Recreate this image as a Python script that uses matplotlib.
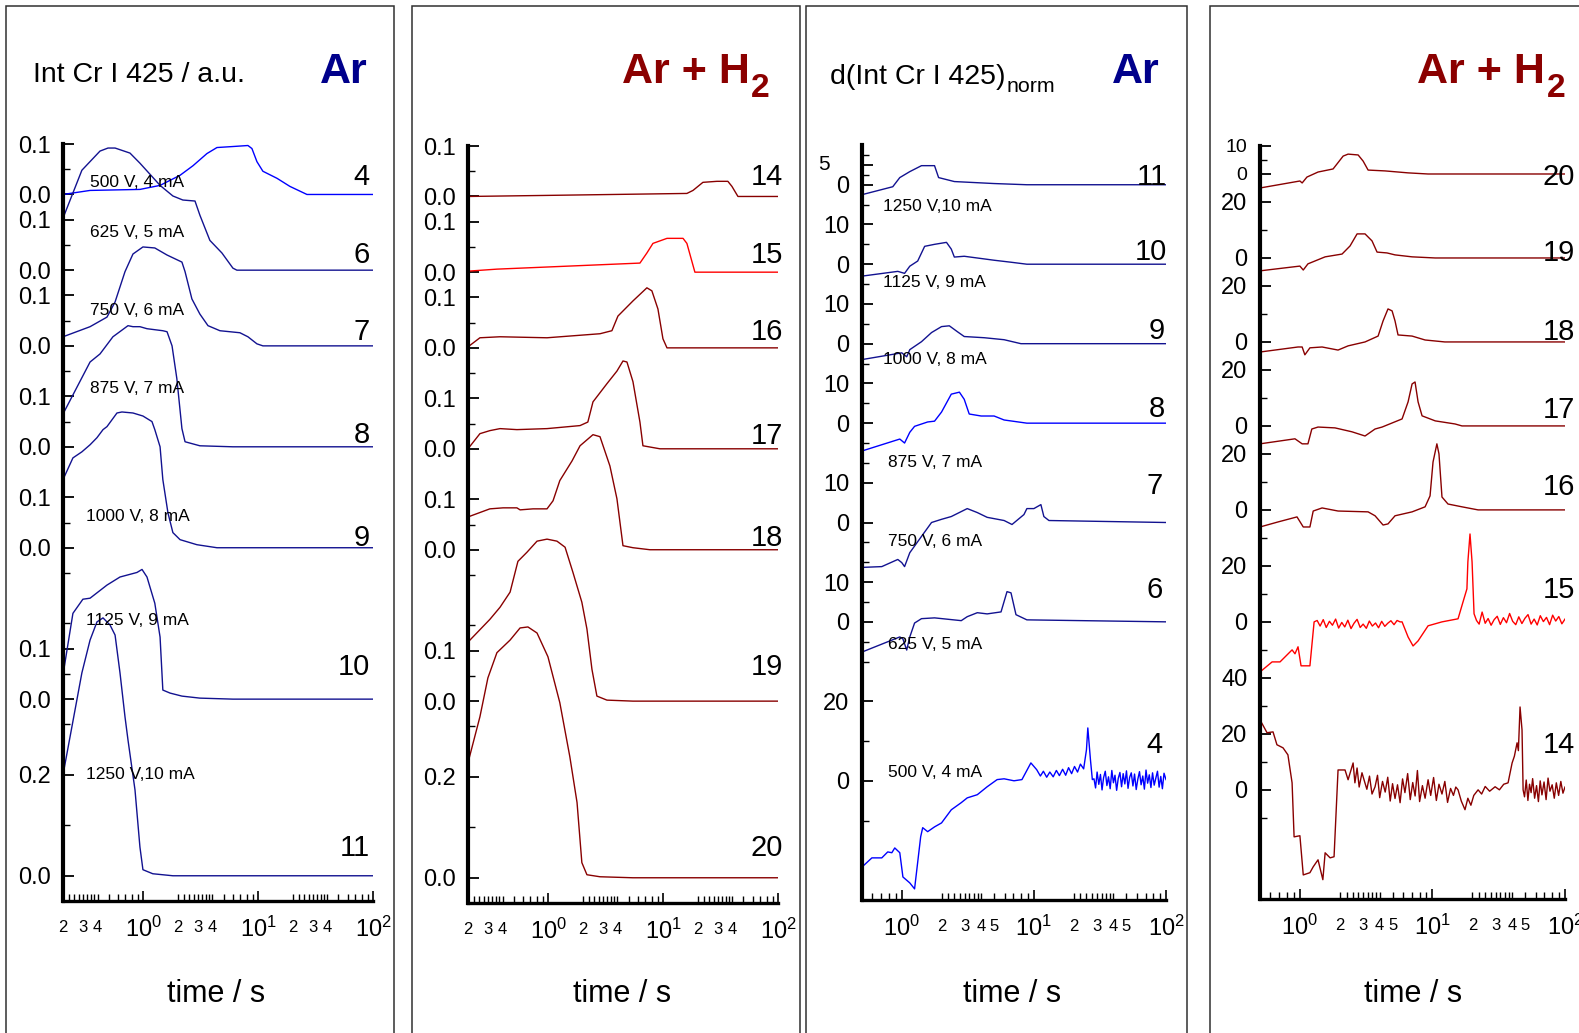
import numpy as np
import matplotlib
matplotlib.use("Agg")
import matplotlib.pyplot as plt
from matplotlib import font_manager
from matplotlib.patches import Rectangle
from matplotlib.ticker import FixedLocator, FixedFormatter, FuncFormatter

# ------------------------------------------------------------------
# Cr I 425 nm emission intensity vs. time (Ar and Ar + H2 discharges)
# ------------------------------------------------------------------

# Panel 1: Int Cr I 425 / a.u., Ar
p1_t4 = [0.2, 0.344, 0.935, 1.40, 2.09, 2.71, 3.58, 4.38, 6.03, 8.15, 8.83, 9.76, 11.0, 14.6, 18.9, 26.6, 100]
p1_v4 = [0.0, 0.008, 0.010, 0.018, 0.038, 0.057, 0.081, 0.093, 0.095, 0.097, 0.091, 0.065, 0.046, 0.032, 0.016, 0.0, 0.0]
p1_t6 = [0.2, 0.292, 0.420, 0.493, 0.568, 0.603, 0.766, 0.935, 1.40, 1.81, 2.21, 2.82, 3.11, 3.80, 4.84, 6.03, 6.53, 100]
p1_v6 = [0.103, 0.198, 0.236, 0.242, 0.242, 0.240, 0.232, 0.212, 0.168, 0.147, 0.139, 0.137, 0.109, 0.059, 0.034, 0.004, 0.0, 0.0]
p1_t7 = [0.2, 0.344, 0.483, 0.568, 0.693, 0.813, 0.993, 1.26, 1.61, 2.17, 2.31, 2.65, 3.11, 3.66, 4.65, 6.94, 8.15, 9.76, 11.0, 100]
p1_v7 = [0.018, 0.038, 0.057, 0.087, 0.147, 0.182, 0.196, 0.194, 0.180, 0.166, 0.147, 0.093, 0.063, 0.040, 0.030, 0.026, 0.018, 0.004, 0.0, 0.0]
p1_t8 = [0.2, 0.344, 0.420, 0.544, 0.736, 0.813, 0.935, 1.077, 1.48, 1.61, 1.78, 1.96, 2.17, 2.31, 3.11, 6.03, 100]
p1_v8 = [0.065, 0.168, 0.184, 0.218, 0.240, 0.238, 0.238, 0.234, 0.230, 0.228, 0.200, 0.135, 0.036, 0.010, 0.002, 0.0, 0.0]
p1_t9 = [0.2, 0.244, 0.292, 0.344, 0.395, 0.446, 0.483, 0.590, 0.652, 0.813, 0.993, 1.19, 1.26, 1.40, 1.48, 1.64, 1.81, 2.09, 2.93, 4.38, 100]
p1_v9 = [0.135, 0.178, 0.190, 0.204, 0.218, 0.234, 0.240, 0.267, 0.269, 0.267, 0.261, 0.250, 0.234, 0.200, 0.135, 0.069, 0.030, 0.016, 0.006, 0.0, 0.0]
p1_t10 = [0.2, 0.244, 0.298, 0.344, 0.483, 0.627, 0.881, 0.975, 1.077, 1.26, 1.40, 1.48, 1.71, 2.17, 3.11, 6.03, 100]
p1_v10 = [0.048, 0.170, 0.198, 0.200, 0.226, 0.242, 0.251, 0.257, 0.242, 0.190, 0.123, 0.018, 0.012, 0.006, 0.002, 0.0, 0.0]
p1_t11 = [0.2, 0.239, 0.292, 0.344, 0.395, 0.446, 0.513, 0.568, 0.627, 0.693, 0.736, 0.847, 0.935, 0.993, 1.21, 1.81, 100]
p1_v11 = [0.200, 0.295, 0.402, 0.467, 0.503, 0.511, 0.497, 0.477, 0.402, 0.315, 0.269, 0.170, 0.057, 0.012, 0.004, 0.0, 0.0]

# Panel 2: Int Cr I 425 / a.u., Ar + H2
p2_t14 = [0.2, 0.90, 16.1, 18.2, 22.2, 29.4, 36.6, 39.7, 44.8, 100]
p2_v14 = [0.0, 0.002, 0.006, 0.012, 0.028, 0.030, 0.030, 0.020, 0.0, 0.0]
p2_t15 = [0.2, 0.357, 6.28, 7.22, 8.15, 10.8, 14.9, 16.1, 18.9, 100]
p2_v15 = [0.002, 0.006, 0.018, 0.038, 0.057, 0.067, 0.067, 0.057, 0.0, 0.0]
p2_t16 = [0.2, 0.254, 0.380, 0.975, 2.82, 3.58, 4.04, 5.46, 7.22, 7.98, 9.01, 9.96, 10.8, 100]
p2_v16 = [0.002, 0.020, 0.022, 0.020, 0.028, 0.034, 0.063, 0.093, 0.119, 0.113, 0.077, 0.018, 0.0, 0.0]
p2_t17 = [0.2, 0.254, 0.310, 0.380, 0.533, 0.975, 1.89, 2.21, 2.45, 3.24, 3.96, 4.47, 4.84, 5.46, 6.28, 6.67, 9.38, 100]
p2_v17 = [0.0, 0.030, 0.036, 0.040, 0.038, 0.040, 0.046, 0.053, 0.093, 0.129, 0.154, 0.174, 0.172, 0.133, 0.053, 0.006, 0.0, 0.0]
p2_t18 = [0.2, 0.310, 0.404, 0.533, 0.568, 0.736, 0.975, 1.10, 1.26, 1.61, 1.89, 2.45, 2.82, 3.44, 3.96, 4.47, 5.46, 7.67, 100]
p2_v18 = [0.065, 0.081, 0.083, 0.083, 0.079, 0.081, 0.081, 0.097, 0.137, 0.176, 0.206, 0.228, 0.224, 0.166, 0.101, 0.008, 0.004, 0.0, 0.0]
p2_t19 = [0.2, 0.310, 0.380, 0.465, 0.544, 0.652, 0.798, 0.975, 1.19, 1.40, 1.64, 1.96, 2.17, 2.40, 2.65, 3.24, 5.46, 100]
p2_v19 = [0.117, 0.162, 0.186, 0.216, 0.277, 0.295, 0.317, 0.321, 0.317, 0.305, 0.255, 0.196, 0.143, 0.063, 0.010, 0.002, 0.0, 0.0]
p2_t20 = [0.2, 0.254, 0.298, 0.357, 0.465, 0.568, 0.665, 0.798, 0.993, 1.26, 1.54, 1.78, 1.96, 2.17, 2.82, 5.46, 100]
p2_v20 = [0.228, 0.319, 0.396, 0.446, 0.471, 0.495, 0.497, 0.485, 0.438, 0.347, 0.240, 0.149, 0.030, 0.006, 0.002, 0.0, 0.0]

# Panel 3: d(Int Cr I 425)norm, Ar
p3_t11 = [0.5, 0.855, 0.966, 1.15, 1.41, 1.77, 1.90, 2.50, 5.0, 8.85, 100]
p3_v11 = [-2.5, -0.5, 1.8, 3.3, 4.8, 4.8, 1.8, 0.8, 0.3, 0.0, 0.0]
p3_t10 = [0.5, 0.933, 1.05, 1.15, 1.32, 1.49, 1.77, 2.18, 2.37, 2.50, 2.97, 5.0, 6.71, 8.85, 100]
p3_v10 = [-3.0, -1.8, -2.3, -0.5, 0.8, 4.5, 5.0, 5.5, 3.8, 1.8, 2.0, 1.0, 0.5, 0.0, 0.0]
p3_t9 = [0.5, 1.0, 1.09, 1.15, 1.41, 1.68, 2.0, 2.29, 2.64, 2.97, 4.21, 5.95, 7.98, 100]
p3_v9 = [-4.0, -2.3, -3.3, -1.5, 0.5, 2.8, 4.3, 4.5, 3.0, 1.8, 1.5, 1.0, 0.0, 0.0]
p3_t8 = [0.5, 0.966, 1.05, 1.15, 1.25, 1.57, 1.77, 2.0, 2.37, 2.73, 2.97, 3.24, 3.99, 5.0, 5.95, 8.85, 100]
p3_v8 = [-7.0, -4.0, -5.0, -2.3, -0.8, 0.3, 0.5, 2.8, 7.3, 7.8, 6.0, 2.3, 1.8, 1.8, 0.8, 0.0, 0.0]
p3_t7 = [0.5, 0.706, 0.933, 1.0, 1.05, 1.15, 1.41, 1.68, 2.0, 2.37, 3.13, 3.73, 4.43, 5.95, 6.83, 8.41, 8.85, 10.0, 11.3, 11.9, 13.0, 100]
p3_v7 = [-11.3, -11.1, -9.3, -10.1, -11.1, -7.6, -3.5, 0.0, 0.8, 1.5, 3.5, 2.5, 1.3, 0.5, -0.5, 2.0, 3.5, 3.5, 4.5, 1.5, 0.5, 0.0]
p3_t6 = [0.5, 0.966, 1.02, 1.09, 1.15, 1.25, 1.41, 1.77, 2.82, 3.13, 3.73, 4.43, 5.64, 6.26, 6.71, 7.32, 8.85, 100]
p3_v6 = [-7.6, -3.8, -4.3, -7.1, -3.8, -0.3, 0.8, 1.0, 0.3, 1.3, 2.3, 2.0, 2.5, 7.6, 7.3, 1.8, 0.5, 0.0]
p3_t4 = [0.5, 0.594, 0.706, 0.783, 0.841, 0.885, 0.966, 1.02, 1.15, 1.25, 1.39, 1.44, 1.57, 1.77, 2.0,
         2.37, 2.82, 3.13, 3.73, 4.43, 5.27, 5.95, 7.07, 8.12, 9.49,
         10.5, 11.2, 11.8, 12.5, 13.2, 14.0, 14.8, 15.6, 16.5, 17.4, 18.3, 19.3, 20.3, 21.4, 22.5,
         23.8, 25.0, 25.6, 26.8, 27.7]
p3_v4 = [-21.7, -19.4, -19.4, -17.9, -18.1, -16.9, -18.1, -24.2, -25.7, -27.2, -14.1, -11.8, -12.8, -11.6, -10.6,
         -7.3, -5.5, -4.3, -3.5, -1.5, 0.3, 0.5, 0.0, 0.3, 4.5,
         2.8, 1.2, 2.4, 0.9, 2.2, 1.0, 2.6, 1.3, 2.9, 1.4, 3.3, 1.8, 3.6, 2.2, 4.2,
         3.0, 7.8, 13.3, 5.3, 0.3]
p3_t4_tail = [28.5, 29.3, 30.1, 31, 31.9, 32.8, 33.7, 34.7, 35.7, 36.7,
              37.8, 38.9, 40, 41.1, 42.3, 43.5, 44.8, 46.1, 47.4, 48.8,
              50.2, 51.6, 53.1, 54.6, 56.2, 57.8, 59.5, 61.2, 63, 64.8,
              66.7, 68.6, 70.6, 72.6, 74.7, 76.9, 79.1, 81.4, 83.8, 86.2,
              88.7, 91.3, 93.9, 96.6, 100]
p3_v4_tail = [0.5, -1.8, 2.2, -0.9, 1.6, -2.3, 0.8, 2.4, -1.2, 1.0,
              -2.0, 2.6, -0.5, 1.4, -2.4, 0.6, 2.1, -1.5, 1.8, -0.8,
              2.5, -1.9, 0.9, 2.0, -1.3, 1.7, -2.2, 0.4, 2.3, -1.0,
              1.2, -2.1, 2.7, -0.6, 1.5, -1.7, 2.0, -1.1, 0.7, 2.4,
              -1.6, 1.1, -2.0, 1.9, 0.3]

# Panel 4: d(Int Cr I 425)norm, Ar + H2
p4_t20 = [0.5, 1.0, 1.04, 1.13, 1.37, 1.78, 2.12, 2.31, 2.75, 3.0, 3.27, 4.39, 6.55, 9.27, 100]
p4_v20 = [-5.0, -2.5, -3.2, -1.1, 0.7, 1.8, 6.4, 7.1, 6.8, 4.6, 1.4, 1.1, 0.4, 0.0, 0.0]
p4_t19 = [0.5, 1.0, 1.06, 1.15, 1.55, 2.08, 2.39, 2.70, 3.10, 3.50, 3.82, 4.54, 5.22, 7.02, 10.5, 100]
p4_v19 = [-4.6, -2.9, -4.3, -2.1, 0.4, 1.4, 4.3, 8.6, 8.6, 6.1, 2.1, 1.8, 1.1, 0.4, 0.0, 0.0]
p4_t18 = [0.5, 0.968, 1.04, 1.09, 1.19, 1.47, 1.94, 2.31, 3.10, 3.89, 4.24, 4.62, 4.96, 5.22, 5.50, 7.02, 8.80, 12.4, 100]
p4_v18 = [-3.6, -1.8, -1.8, -4.6, -2.1, -1.8, -2.9, -1.4, 0.0, 2.1, 7.5, 11.8, 11.1, 7.5, 2.5, 2.1, 0.7, 0.0, 0.0]
p4_t17 = [0.5, 0.918, 1.04, 1.15, 1.23, 1.37, 1.84, 2.47, 3.10, 3.69, 4.17, 5.90, 6.55, 7.02, 7.39, 7.79, 8.35, 10.5, 14.8, 16.7, 100]
p4_v17 = [-6.4, -4.6, -6.4, -6.4, -1.1, -0.4, -0.7, -2.1, -3.6, -1.1, -0.4, 2.5, 8.6, 15.0, 15.7, 8.6, 3.6, 1.8, 0.7, 0.0, 0.0]
p4_t16 = [0.5, 0.684, 0.951, 1.06, 1.19, 1.26, 1.47, 1.94, 3.27, 3.69, 4.24, 4.62, 5.22, 7.02, 8.80, 9.59, 10.1, 10.8, 11.2, 11.8, 13.1, 16.7, 22.1, 100]
p4_v16 = [-6.1, -4.3, -2.5, -6.1, -6.1, -0.4, 0.7, -0.4, -0.7, -2.1, -5.4, -5.0, -2.1, -0.7, 1.1, 5.0, 17.1, 23.6, 20.0, 4.6, 2.1, 1.1, 0.0, 0.0]
p4_t15 = [0.5, 0.617, 0.708, 0.773, 0.873, 0.918, 0.968, 1.02, 1.19, 1.28]
p4_v15 = [-17.9, -14.3, -14.3, -12.5, -10.0, -11.4, -8.9, -15.7, -15.7, 0.0]
p4_t15_mid = [1.35, 1.42, 1.5, 1.58, 1.67, 1.76, 1.86, 1.96, 2.07, 2.18, 2.3, 2.43, 2.56, 2.7, 2.85,
              3.0, 3.17, 3.34, 3.52, 3.72, 3.92, 4.14, 4.37, 4.6, 4.86, 5.13, 5.41, 5.7, 5.9]
p4_v15_mid = [0.5, -1.5, 0.8, -2.0, 0.2, -1.2, 1.0, -2.2, -0.2, -1.8, 0.6, -2.4, -0.5, 0.9, -2.0,
              -0.8, -2.3, 0.3, -1.5, -0.4, -2.1, 0.2, -1.6, -0.5, 0.4, -1.0, 0.5, 0.0, 0.0]
p4_t15_late = [6.55, 7.14, 7.79, 9.27, 11.8, 15.6, 17.0, 18.2, 18.5, 19.2, 19.9, 20.6]
p4_v15_late = [-5.4, -8.6, -6.8, -1.4, 0.0, 1.1, 7.1, 11.8, 21.4, 31.4, 21.4, 2.9]
p4_t15_tail = [21.5, 22.5, 23.7, 25, 26.3, 27.7, 29.2, 30.8, 32.5, 34.3, 36.2, 38.2, 40.3, 42.5, 44.8,
               47.3, 49.9, 52.6, 55.5, 58.5, 61.7, 65.1, 68.7, 72.5, 76.5, 80.7, 85.1, 89.8, 94.7, 100]
p4_v15_tail = [0.5, -0.8, 3.5, -0.5, 1.2, -1.2, 0.8, 2.0, -0.9, 1.5, -0.3, 3.0, 0.2, -1.0, 1.8,
               -0.6, 1.3, 2.6, -0.8, 1.0, -1.1, 2.2, 0.1, 1.6, -1.0, 2.4, 0.3, 1.9, -0.7, 1.0]
p4_t14 = [0.5, 0.565, 0.627, 0.671, 0.746, 0.812, 0.873, 0.904, 1.0, 1.06, 1.19, 1.26, 1.37, 1.49, 1.55,
          1.69, 1.81, 1.94, 2.19, 2.31, 2.52]
p4_v14 = [25.0, 20.4, 20.7, 16.1, 15.0, 12.5, 2.5, -16.8, -16.4, -30.4, -29.6, -27.5, -25.0, -32.1, -22.5,
          -24.3, -23.9, 7.1, 7.1, 3.6, 9.6]
p4_t14_mid = [2.6, 2.7, 2.8, 2.94, 3.05, 3.2, 3.35, 3.5, 3.69, 3.85, 4.0, 4.2, 4.4, 4.6, 4.8,
              5.0, 5.22, 5.45, 5.7, 5.95, 6.2, 6.5, 6.8, 7.1, 7.4, 7.7, 8.0, 8.4, 8.8, 9.27,
              9.7, 10.2, 10.7, 11.2, 11.8, 12.4, 13.0, 13.7, 14.4, 15.0, 15.6]
p4_v14_mid = [2.5, 7.8, 1.0, 6.1, 3.5, 0.2, 4.9, -1.5, 1.1, 5.2, -2.8, 3.0, -0.8, 4.5, -4.0,
              2.2, -3.1, 1.8, -4.6, 3.9, -1.0, 5.8, -3.5, 2.6, -2.2, 6.9, -4.2, 1.5, -3.0, 3.6,
              -2.0, 4.4, -3.8, 2.0, -1.5, 3.0, -4.5, 0.5, -2.0, 1.0, 0.0]
p4_t14_late = [16.5, 17.6, 18.5, 19.5, 20.5, 22.1, 23.5, 25.0, 27.0, 29.7, 32.0, 34.5, 37.2, 38.5, 39.9,
               41.5, 43.5, 44.5, 45.8, 47.4, 48.3]
p4_v14_late = [-4.0, -7.1, -3.0, -5.5, -2.0, 0.0, -1.5, 1.2, -0.5, 1.1, 0.0, 2.0, 2.5, 6.0, 9.6,
               12.0, 16.8, 14.0, 29.6, 21.4, 0.0]
p4_t14_tail = [49.5, 51, 52.5, 54, 55.5, 57, 59, 61, 63, 65, 67, 69.5, 72, 74.5, 77, 80, 83, 86, 89.5, 93, 96.5, 100]
p4_v14_tail = [-2.5, 3.5, -3.8, 2.0, -1.0, 4.0, -3.0, 1.5, -4.2, 3.2, -1.8, 2.8, -3.5, 4.2, -0.5, 1.8,
               -3.0, 2.5, -2.0, 3.0, -1.2, 1.0]

# discharge conditions per run number
conditions = {4: "500 V, 4 mA", 6: "625 V, 5 mA", 7: "750 V, 6 mA", 8: "875 V, 7 mA",
              9: "1000 V, 8 mA", 10: "1125 V, 9 mA", 11: "1250 V,10 mA"}

# ------------------------------------------------------------------
# styling / layout
# ------------------------------------------------------------------
W, H, DPI = 1579, 1033, 100
NAVY, BLUE, DRED, RED = "#121290", "#0000FF", "#880000", "#FF0000"
TITLE_NAVY, TITLE_DRED = "#00008B", "#8B0000"

plt.rcParams["font.family"] = ["Liberation Sans", "DejaVu Sans"]
plt.rcParams["mathtext.fontset"] = "custom"
plt.rcParams["mathtext.rm"] = "Liberation Sans"
plt.rcParams["mathtext.it"] = "Liberation Sans:italic"
plt.rcParams["mathtext.bf"] = "Liberation Sans:bold"

installed = {f.name for f in font_manager.fontManager.ttflist}
if "Liberation Sans Narrow" in installed:
    TFAM = ["Liberation Sans Narrow", "DejaVu Sans"]
    T_SIZE, AR_SIZE = 24.5, 35
else:
    TFAM = ["Liberation Sans", "DejaVu Sans"]
    T_SIZE, AR_SIZE = 20.5, 31

fig = plt.figure(figsize=(W / DPI, H / DPI), dpi=DPI)
fig.patch.set_facecolor("white")


def px_axes(x0, y0, x1, y1):
    return fig.add_axes([x0 / W, 1 - y1 / H, (x1 - x0) / W, (y1 - y0) / H])


def fx(x):
    return x / W


def fy(y):
    return 1 - y / H


# panel frames
for x0, x1 in [(6, 394), (412, 800), (806, 1187), (1210, 1600)]:
    fig.add_artist(Rectangle((fx(x0), -0.05), fx(x1) - fx(x0), fy(6) + 0.05,
                             transform=fig.transFigure, fill=False, lw=1.1, ec="#303030"))


def minor_positions(lo, hi):
    subs = [2, 2.25, 2.5, 2.75, 3, 3.25, 3.5, 3.75, 4, 5, 6, 7, 8, 9]
    out = []
    for dec in [0.1, 1, 10]:
        for s in subs:
            v = dec * s
            if lo * 0.999 <= v <= hi * 1.001:
                out.append(v)
    return out


def style(ax, xlim, ylim, ymaj, ylab, ymin, xlab_digits, xlab_from):
    ax.set_xscale("log")
    ax.set_xlim(*xlim)
    ax.set_ylim(*ylim)
    ax.patch.set_alpha(0)
    for s in ["top", "right"]:
        ax.spines[s].set_visible(False)
    ax.spines["left"].set_linewidth(3.0)
    ax.spines["bottom"].set_linewidth(2.4)
    ax.yaxis.set_major_locator(FixedLocator(ymaj))
    ax.yaxis.set_major_formatter(FixedFormatter(ylab))
    ax.yaxis.set_minor_locator(FixedLocator(ymin))
    ax.xaxis.set_major_locator(FixedLocator([1, 10, 100]))
    ax.xaxis.set_major_formatter(FixedFormatter([r"$10^{0}$", r"$10^{1}$", r"$10^{2}$"]))
    ax.xaxis.set_minor_locator(FixedLocator(minor_positions(*xlim)))

    def mfmt(v, pos):
        if v < xlab_from * 0.999:
            return ""
        m = v / 10 ** np.floor(np.log10(v) + 1e-9)
        if abs(m - round(m)) < 1e-6 and int(round(m)) in xlab_digits:
            return str(int(round(m)))
        return ""

    ax.xaxis.set_minor_formatter(FuncFormatter(mfmt))
    ax.tick_params(axis="y", which="major", direction="in", length=8, width=1.3, pad=9, labelsize=17)
    ax.tick_params(axis="y", which="minor", direction="in", length=5, width=1.0)
    ax.tick_params(axis="x", which="major", direction="in", length=7, width=1.2, pad=11, labelsize=17)
    ax.tick_params(axis="x", which="minor", direction="in", length=5, width=1.0, pad=14, labelsize=12)


# ---------------- panel 1 / 2 (intensity) ----------------
int_offsets = [1.35, 1.20, 1.05, 0.85, 0.65, 0.35, 0.0]
int_ymaj = [1.45, 1.35, 1.30, 1.20, 1.15, 1.05, 0.95, 0.85, 0.75, 0.65, 0.45, 0.35, 0.2, 0.0]
int_ylab = ["0.1", "0.0", "0.1", "0.0", "0.1", "0.0", "0.1", "0.0", "0.1", "0.0", "0.1", "0.0", "0.2", "0.0"]
int_ymin = [1.40, 1.25, 1.10, 1.00, 0.90, 0.70, 0.60, 0.50, 0.40, 0.30, 0.10]

ax1 = px_axes(63, 144, 373, 901)
style(ax1, (0.2, 100), (-0.05, 1.45), int_ymaj, int_ylab, int_ymin, [2, 3, 4], 0.2)
p1_runs = [4, 6, 7, 8, 9, 10, 11]
p1_data = [(p1_t4, p1_v4), (p1_t6, p1_v6), (p1_t7, p1_v7), (p1_t8, p1_v8),
           (p1_t9, p1_v9), (p1_t10, p1_v10), (p1_t11, p1_v11)]
p1_cols = [BLUE, NAVY, NAVY, NAVY, NAVY, NAVY, NAVY]
for (t, v), off, c in zip(p1_data, int_offsets, p1_cols):
    ax1.plot(t, np.asarray(v) + off, color=c, lw=1.0)
p1_num_y = [1.384, 1.230, 1.077, 0.873, 0.669, 0.414, 0.055]
p1_cond_y = [1.374, 1.275, 1.121, 0.966, 0.711, 0.505, 0.200]
p1_cond_x = [0.087, 0.087, 0.087, 0.087, 0.074, 0.074, 0.074]
tr = ax1.get_yaxis_transform()
for run, ny, cy, cx in zip(p1_runs, p1_num_y, p1_cond_y, p1_cond_x):
    ax1.text(0.99, ny, str(run), transform=tr, ha="right", va="center", fontsize=21)
    ax1.text(cx, cy, conditions[run], transform=tr, ha="left", va="center", fontsize=12.5)

ax2 = px_axes(468, 146, 778, 903)
style(ax2, (0.2, 100), (-0.05, 1.45), int_ymaj, int_ylab, int_ymin, [2, 3, 4], 0.2)
p2_runs = [14, 15, 16, 17, 18, 19, 20]
p2_data = [(p2_t14, p2_v14), (p2_t15, p2_v15), (p2_t16, p2_v16), (p2_t17, p2_v17),
           (p2_t18, p2_v18), (p2_t19, p2_v19), (p2_t20, p2_v20)]
p2_cols = [DRED, RED, DRED, DRED, DRED, DRED, DRED]
for (t, v), off, c in zip(p2_data, int_offsets, p2_cols):
    ax2.plot(t, np.asarray(v) + off, color=c, lw=1.0)
p2_num_y = [1.388, 1.234, 1.081, 0.875, 0.673, 0.418, 0.059]
tr = ax2.get_yaxis_transform()
for run, ny in zip(p2_runs, p2_num_y):
    ax2.text(1.016, ny, str(run), transform=tr, ha="right", va="center", fontsize=21)

# ---------------- panel 3 (derivative, Ar) ----------------
p3_offsets = [150, 130, 110, 90, 65, 40, 0]
ax3 = px_axes(862, 145, 1166, 900)
p3_ymaj = [155, 150, 140, 130, 120, 110, 100, 90, 75, 65, 50, 40, 20, 0]
p3_ylab = ["", "0", "10", "0", "10", "0", "10", "0", "10", "0", "10", "0", "20", "0"]
p3_ymin = [157.5, 152.5, 145, 135, 125, 115, 105, 95, 85, 80, 60, 55, 45, 35, 30, 10, -10]
style(ax3, (0.5, 100), (-30, 160), p3_ymaj, p3_ylab, p3_ymin, [2, 3, 4, 5], 1.0)
ax3.text(-0.105, 155, "5", transform=ax3.get_yaxis_transform(), ha="right", va="center", fontsize=15)
p3_runs = [11, 10, 9, 8, 7, 6, 4]
p3_data = [(p3_t11, p3_v11), (p3_t10, p3_v10), (p3_t9, p3_v9), (p3_t8, p3_v8),
           (p3_t7, p3_v7), (p3_t6, p3_v6),
           (p3_t4 + p3_t4_tail, p3_v4 + p3_v4_tail)]
p3_cols = [NAVY, NAVY, NAVY, BLUE, NAVY, NAVY, BLUE]
for (t, v), off, c in zip(p3_data, p3_offsets, p3_cols):
    ax3.plot(t, np.asarray(v) + off, color=c, lw=1.0)
p3_num_y = [151.9, 133.0, 113.1, 93.5, 74.1, 48.1, 9.1]
p3_num_x = [1.003, 1.003, 0.997, 0.997, 0.99, 0.99, 0.99]
p3_cond_y = [144.6, 125.4, 106.0, 80.1, 60.2, 34.3, 2.0]
p3_cond_x = [0.069, 0.069, 0.069, 0.086, 0.086, 0.086, 0.086]
tr = ax3.get_yaxis_transform()
for run, ny, nx, cy, cx in zip(p3_runs, p3_num_y, p3_num_x, p3_cond_y, p3_cond_x):
    ax3.text(nx, ny, str(run), transform=tr, ha="right", va="center", fontsize=21)
    ax3.text(cx, cy, conditions[run], transform=tr, ha="left", va="center", fontsize=12.5)

# ---------------- panel 4 (derivative, Ar + H2) ----------------
p4_offsets = [220, 190, 160, 130, 100, 60, 0]
ax4 = px_axes(1260, 146, 1565, 899)
p4_ymaj = [230, 220, 210, 190, 180, 160, 150, 130, 120, 100, 80, 60, 40, 20, 0]
p4_ylab = ["10", "0", "20", "0", "20", "0", "20", "0", "20", "0", "20", "0", "40", "20", "0"]
p4_ymin = [225, 200, 170, 140, 110, 90, 70, 50, 30, 10, -10]
style(ax4, (0.5, 100), (-39, 230), p4_ymaj, p4_ylab, p4_ymin, [2, 3, 4, 5], 1.0)
for tk in ax4.yaxis.get_major_ticks()[:2]:
    tk.label1.set_fontsize(14)
p4_runs = [20, 19, 18, 17, 16, 15, 14]
p4_data = [(p4_t20, p4_v20), (p4_t19, p4_v19), (p4_t18, p4_v18), (p4_t17, p4_v17), (p4_t16, p4_v16),
           (p4_t15 + p4_t15_mid + p4_t15_late + p4_t15_tail, p4_v15 + p4_v15_mid + p4_v15_late + p4_v15_tail),
           (p4_t14 + p4_t14_mid + p4_t14_late + p4_t14_tail, p4_v14 + p4_v14_mid + p4_v14_late + p4_v14_tail)]
p4_cols = [DRED, DRED, DRED, DRED, DRED, RED, DRED]
for (t, v), off, c in zip(p4_data, p4_offsets, p4_cols):
    ax4.plot(t, np.asarray(v) + off, color=c, lw=1.0)
p4_num_y = [218.9, 191.8, 163.6, 135.7, 108.2, 71.4, 16.1]
tr = ax4.get_yaxis_transform()
for run, ny in zip(p4_runs, p4_num_y):
    ax4.text(1.033, ny, str(run), transform=tr, ha="right", va="center", fontsize=21)

# ---------------- panel headings and axis titles ----------------
renderer = fig.canvas.get_renderer()


def text_with_sub(x, y, main, sub, dy, size, sub_scale, **kw):
    t = fig.text(fx(x), fy(y), main, ha="left", va="baseline", size=size, **kw)
    bb = t.get_window_extent(renderer)
    fig.text(bb.x1 / W + 1.5 / W, fy(y + dy), sub, ha="left", va="baseline", size=size * sub_scale, **kw)


fig.text(fx(33), fy(82), "Int Cr I 425 / a.u.", family=TFAM, size=T_SIZE, ha="left", va="baseline")
fig.text(fx(344), fy(83), "Ar", family=TFAM, weight="bold", size=AR_SIZE, color=TITLE_NAVY,
         ha="center", va="baseline")
text_with_sub(622, 83, "Ar + H", "2", 14, AR_SIZE, 0.78, family=TFAM, weight="bold", color=TITLE_DRED)
text_with_sub(830, 84, "d(Int Cr I 425)", "norm", 8, T_SIZE, 0.75, family=TFAM)
fig.text(fx(1136), fy(83), "Ar", family=TFAM, weight="bold", size=AR_SIZE, color=TITLE_NAVY,
         ha="center", va="baseline")
text_with_sub(1417, 83, "Ar + H", "2", 14, AR_SIZE, 0.78, family=TFAM, weight="bold", color=TITLE_DRED)

for xc in [216, 622, 1012, 1413]:
    fig.text(fx(xc), fy(1002), "time / s", ha="center", va="baseline", fontsize=22)

fig.savefig("out.png", dpi=DPI, facecolor="white")
